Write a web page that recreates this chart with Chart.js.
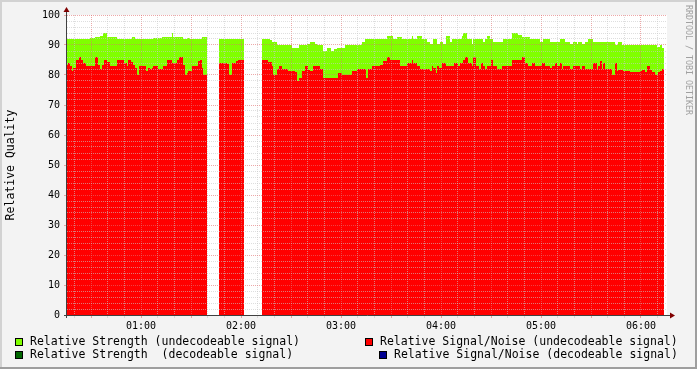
<!DOCTYPE html>
<html>
<head>
<meta charset="utf-8">
<script src="https://cdn.jsdelivr.net/npm/chart.js@4"></script>
<style>
html, body { margin: 0; padding: 0; background: #f3f3f3; }
#wrap { position: relative; width: 697px; height: 369px; font-family: "DejaVu Sans Mono", monospace; }
#wrap canvas { position: absolute; left: 0; top: 0; }
.lg { position: absolute; font-size: 11.5px; line-height: 13px; white-space: pre; color: #000; }
.lg i { position: absolute; left: -15px; top: 3px; width: 6px; height: 6px; border: 1px solid #000; }
.sig { position: absolute; left: 684px; top: 5px; writing-mode: vertical-rl; font-size: 8.3px; color: #a0a0a0; }
</style>
</head>
<body>
<div id="wrap">
	<canvas id="c" width="697" height="369"></canvas>
	<div class="sig">RRDTOOL / TOBI OETIKER</div>
	<div class="lg" style="left:30px;top:335px"><i style="background:#80ff00"></i>Relative Strength (undecodeable signal)</div>
	<div class="lg" style="left:30px;top:348px"><i style="background:#006600"></i>Relative Strength  (decodeable signal)</div>
	<div class="lg" style="left:380px;top:335px"><i style="background:#ff0000"></i>Relative Signal/Noise (undecodeable signal)</div>
	<div class="lg" style="left:394px;top:348px"><i style="background:#000090"></i>Relative Signal/Noise (decodeable signal)</div>
</div>
<script>
// x軸のラベル（時刻）
const hourLabels = ['01:00', '02:00', '03:00', '04:00', '05:00', '06:00']

// 値が変わる時刻（0時からの分）と、その時刻からの値。null は欠測
const strengthTimes = [
	15.6, 29.4, 32.4, 35.4, 37.2, 39.6, 45.6, 54.6, 56.4, 67.2, 69.6, 70.2, 72.6, 78.6, 79.2, 85.2, 87.6, 89.4, 96.6, 99.6,
	106.8, 121.8,
	132.6, 137.4, 138.6, 141.6, 150.6, 154.8, 159.6, 161.4, 164.4, 165.6, 169.2, 171.6, 174.0, 175.8, 177.6, 182.4, 192.6, 194.4,
	207.6, 211.2, 213.6, 216.6, 222.6, 223.2, 225.6, 228.6, 231.6, 233.4, 235.2, 237.6, 239.4, 241.2, 243.0, 245.4, 246.6, 252.6,
	253.2, 255.6, 258.6, 259.2, 265.2, 266.4, 267.6, 269.4, 271.2, 277.2, 282.6, 286.2, 288.6, 293.4, 299.4, 301.2, 305.4, 311.4,
	314.4, 317.4, 319.2, 321.6, 322.2, 324.6, 326.4, 328.2, 331.2, 344.4, 346.2, 348.6, 369.6, 371.4, 372.6, 373.8
]
const strengthValues = [
	92, 92.3, 92.7, 93, 94, 92.7, 92, 92.7, 92, 92.3, 92, 92.3, 92.7, 94, 92.7, 92, 92.3, 92, 92.7, null,
	92, null,
	92, 91.7, 91, 90, 89, 90, 90.3, 91, 90.3, 90, 88, 89, 88, 88.7, 89, 90, 91, 92,
	93, 92, 92.7, 92, 93, 92, 93, 92, 91, 90.3, 92, 90.3, 91, 90.3, 93, 91, 92, 93,
	94, 92, 90.3, 92, 91, 92, 93, 92, 91, 92, 94, 93.3, 92.7, 92, 91, 92, 91, 92,
	91, 90.3, 91, 90.3, 91, 90.3, 91, 92, 91, 90, 91, 90, 89.3, 90, 89, null
]

const snrTimes = [
	15.6, 16.2, 17.4, 18.6, 19.2, 21.0, 22.8, 24.0, 25.2, 27.0, 32.4, 34.2, 35.4, 36.6, 37.8, 39.6, 41.4, 45.6, 49.8, 51.6,
	52.2, 54.0, 55.2, 56.4, 57.6, 58.8, 63.0, 64.2, 65.4, 66.6, 67.2, 70.2, 73.2, 75.6, 78.6, 81.6, 82.8, 85.2, 86.4, 87.6,
	88.2, 90.6, 94.2, 95.4, 96.6, 97.2, 99.6,
	106.8, 111.6, 112.8, 114.6, 117.0, 118.2, 121.8,
	132.6, 136.2, 138.6, 139.2, 141.6, 142.8, 144.6, 148.2, 152.4, 153.6, 154.8, 156.6, 158.4, 160.2, 161.4, 163.2, 167.4, 169.2,
	178.2, 180.6, 186.6, 189.6, 195.0, 196.2, 198.6, 203.4, 205.2, 207.6, 209.4, 215.4, 219.6, 222.6, 223.2, 225.6, 227.4, 233.4,
	234.6, 235.2, 237.0, 237.6, 238.8, 240.6, 243.0, 247.8, 250.2, 251.4, 253.2, 254.4, 256.2, 258.6, 259.2, 261.0, 262.8, 264.0,
	265.2, 266.4, 267.6, 270.0, 271.2, 273.6, 276.6, 282.6, 288.6, 290.4, 292.2, 294.6, 296.4, 300.6, 302.4, 305.4, 306.6, 308.4,
	309.6, 311.4, 312.6, 313.2, 317.4, 319.2, 323.4, 324.6, 326.4, 331.2, 333.6, 334.2, 335.4, 336.6, 337.2, 338.4, 342.6, 344.4,
	345.6, 346.2, 349.2, 353.4, 359.4, 360.6, 362.4, 363.6, 365.4, 366.6, 368.4, 370.2, 371.4, 372.6, 373.8
]
const snrValues = [
	83.3, 84, 83, 81.3, 82.3, 85, 86, 85, 84, 83, 86, 83.3, 82, 83.3, 85, 84.3, 83, 85, 84, 83,
	85, 84.3, 83.3, 82.3, 80, 83, 81.3, 82.3, 82, 82.3, 83, 82, 83, 85, 84, 85, 86, 83.3, 80, 80.7,
	81.3, 83, 84.7, 85, 82.3, 80, null,
	84, 83.7, 80, 84, 84.7, 85, null,
	85, 84.3, 83, 80, 82, 83, 82, 81.3, 81, 78, 79, 81.3, 83, 81.7, 81.3, 83, 82, 79,
	80.7, 80, 81.3, 82, 79, 82, 83, 83.3, 84.7, 86, 85, 83, 84, 85, 84, 83, 82, 81.3,
	83, 82.3, 80.7, 83, 82.3, 84, 83, 84, 83, 84, 85, 86, 84, 83, 86, 83, 82, 84,
	83, 82, 83, 85, 83, 82, 83, 85, 86, 84, 83, 84, 83, 84, 83, 82.3, 83, 84,
	83, 84, 82, 83, 82, 83, 82, 83, 82, 84, 82, 83, 84.7, 82, 84, 82, 80, 84,
	81.3, 81.7, 81.3, 81, 81.3, 81.7, 81, 83, 81.7, 81, 80, 81, 81.3, 82, null
]

// この時間帯は decodeable のデータなし
const strengthDecTimes = []
const strengthDecValues = []
const snrDecTimes = []
const snrDecValues = []

const GRID = 'rgba(200, 200, 200, 0.6)'
const MGRID = 'rgba(225, 110, 110, 0.6)'

// 変化点のリストを階段グラフ用の点にする（欠測の前で区間を閉じる）
function toSteps(times, values) {
	const pts = []
	for (let i = 0; i < times.length; i++) {
		pts.push({ x: times[i], y: values[i] })
		if (values[i] !== null && i + 1 < times.length && values[i + 1] === null) {
			pts.push({ x: times[i + 1], y: values[i] })
		}
	}
	return pts
}

// 枠・背景・軸の矢印（rrdtool風）
const rrdFrame = {
	id: 'rrdFrame',
	beforeDraw(chart) {
		const { ctx, chartArea: a, width, height } = chart
		ctx.save()
		ctx.fillStyle = '#f3f3f3'
		ctx.fillRect(0, 0, width, height)
		ctx.fillStyle = '#ffffff'
		ctx.fillRect(a.left, a.top, a.right - a.left, a.bottom - a.top)
		ctx.fillStyle = '#d2d2d2'
		ctx.fillRect(0, 0, width, 2)
		ctx.fillRect(0, 0, 2, height)
		ctx.fillStyle = '#9e9e9e'
		ctx.fillRect(0, height - 2, width, 2)
		ctx.fillRect(width - 2, 0, 2, height)
		ctx.restore()
	},
	afterDraw(chart) {
		const { ctx, chartArea: a } = chart
		const x0 = a.left - 0.5
		const y0 = a.bottom + 0.5
		ctx.save()
		ctx.strokeStyle = '#404040'
		ctx.lineWidth = 1
		ctx.beginPath()
		ctx.moveTo(x0, a.bottom + 3)
		ctx.lineTo(x0, a.top - 4)
		ctx.moveTo(a.left - 3, y0)
		ctx.lineTo(a.right + 4, y0)
		ctx.stroke()
		ctx.fillStyle = '#800000'
		ctx.beginPath()
		ctx.moveTo(x0, a.top - 8)
		ctx.lineTo(x0 - 3, a.top - 3)
		ctx.lineTo(x0 + 3, a.top - 3)
		ctx.fill()
		ctx.beginPath()
		ctx.moveTo(a.right + 8, y0)
		ctx.lineTo(a.right + 3, y0 - 3)
		ctx.lineTo(a.right + 3, y0 + 3)
		ctx.fill()
		ctx.restore()
	}
}

const stepLine = (label, color, times, values) => ({
	label: label,
	data: toSteps(times, values),
	backgroundColor: color,
	borderColor: 'transparent',
	borderWidth: 0,
	pointRadius: 0,
	stepped: true,
	fill: 'origin',
	spanGaps: false
})

// index 0 が一番上に描かれる
const datasets = [
	stepLine('Relative Signal/Noise (decodeable signal)', '#000090', snrDecTimes, snrDecValues),
	stepLine('Relative Strength  (decodeable signal)', '#006600', strengthDecTimes, strengthDecValues),
	stepLine('Relative Signal/Noise (undecodeable signal)', '#ff0000', snrTimes, snrValues),
	stepLine('Relative Strength (undecodeable signal)', '#80ff00', strengthTimes, strengthValues)
]

const tickFont = { family: 'DejaVu Sans Mono', size: 10 }

new Chart(document.getElementById('c'), {
	type: 'line',
	data: { datasets: datasets },
	plugins: [rrdFrame],
	options: {
		responsive: false,
		animation: false,
		events: [],
		layout: { padding: { left: 0, right: 30, top: 15, bottom: 0 } },
		plugins: {
			legend: { display: false },
			tooltip: { enabled: false }
		},
		scales: {
			x: {
				type: 'linear',
				min: 15.6,
				max: 375.6,
				afterBuildTicks: (s) => {
					const t = []
					for (let v = 20; v < s.max; v += 10) t.push({ value: v })
					s.ticks = t
				},
				afterFit: (s) => { s.height = 54 },
				grid: {
					z: 1,
					color: (c) => c.tick && c.tick.value % 30 === 0 ? MGRID : GRID,
					tickColor: (c) => c.tick && c.tick.value % 30 === 0 ? MGRID : GRID,
					tickLength: 3
				},
				border: { display: false, dash: [1, 1] },
				ticks: {
					autoSkip: false,
					maxRotation: 0,
					padding: 2,
					color: '#000',
					font: tickFont,
					callback: (v) => v % 60 === 0 ? hourLabels[v / 60 - 1] : ''
				}
			},
			y: {
				min: 0,
				max: 100,
				afterBuildTicks: (s) => {
					const t = []
					for (let v = 0; v <= 100; v += 2) t.push({ value: v })
					s.ticks = t
				},
				afterFit: (s) => { s.width = 67 },
				grid: {
					z: 1,
					color: (c) => c.tick && c.tick.value % 10 === 0 ? MGRID : GRID,
					tickColor: (c) => c.tick && c.tick.value % 10 === 0 ? MGRID : 'transparent',
					tickLength: 3
				},
				border: { display: false, dash: [1, 1] },
				ticks: {
					autoSkip: false,
					padding: 4,
					color: '#000',
					font: tickFont,
					callback: (v) => v % 10 === 0 ? v : ''
				},
				title: {
					display: true,
					text: 'Relative Quality',
					color: '#000',
					font: { family: 'DejaVu Sans Mono', size: 11.5 },
					padding: { top: 4, bottom: 0 }
				}
			}
		}
	}
})
</script>
</body>
</html>
